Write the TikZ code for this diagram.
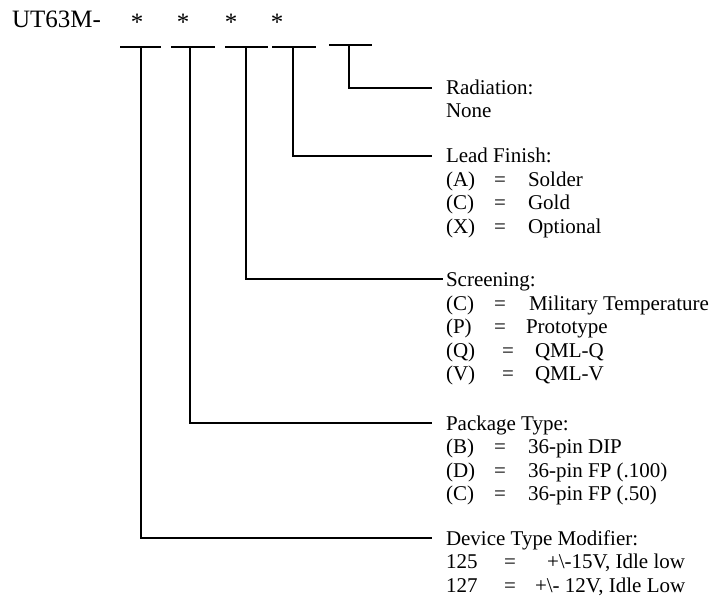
\documentclass[tikz,border=0pt]{standalone}
\usepackage{fontspec}
\setmainfont{Liberation Serif}
\tikzset{
  txt/.style={anchor=west,inner sep=0pt,outer sep=0pt,text height=14bp,text depth=0bp,font=\fontsize{21bp}{25bp}\selectfont},
  head/.style={txt,inner xsep=14bp},
  star/.style={anchor=base,inner sep=0pt,outer sep=0pt,font=\fontsize{25bp}{30bp}\selectfont},
  rule/.style={line width=1.5bp},
}

\begin{document}
\begin{tikzpicture}[x=1bp,y=-1bp]
  \useasboundingbox (0,0) rectangle (714,597);
  % part number
  \node[anchor=base west,inner sep=0pt,outer sep=0pt,font=\fontsize{25bp}{30bp}\selectfont] (pn) at (12,28) {UT63M-};
  \node[star] (s1) at (137,31) {*};
  \node[star] (s2) at (183,31) {*};
  \node[star] (s3) at (231,31) {*};
  \node[star] (s4) at (277,31) {*};
  % underlines
  \draw[rule] (120,47) -- (161,47);
  \draw[rule] (171,47) -- (215,47);
  \draw[rule] (225,47) -- (268,47);
  \draw[rule] (272,47) -- (316,47);
  \draw[rule] (329,45) -- (372,45);
  \coordinate (u1) at (141,47);
  \coordinate (u2) at (190,47);
  \coordinate (u3) at (246,47);
  \coordinate (u4) at (293,47);
  \coordinate (u5) at (349,45);
  % radiation
  \node[head] (rad) at (432,88) {Radiation:};
  \node[txt] (radnone) at (446,111) {None};
  % lead finish
  \node[head] (lead) at (432,156) {Lead Finish:};
  \node[txt] (leadA) at (446,179.5) {(A)};
  \node[txt] (leadAeq) at (494,179.5) {=};
  \node[txt] (leadAval) at (528,179.5) {Solder};
  \node[txt] (leadC) at (446,203) {(C)};
  \node[txt] (leadCeq) at (494,203) {=};
  \node[txt] (leadCval) at (528,203) {Gold};
  \node[txt] (leadX) at (446,226.5) {(X)};
  \node[txt] (leadXeq) at (494,226.5) {=};
  \node[txt] (leadXval) at (528,226.5) {Optional};
  % screening
  \node[head,inner xsep=3bp] (scr) at (443,279) {Screening:};
  \node[txt] (scrC) at (446,303) {(C)};
  \node[txt] (scrCeq) at (494,303) {=};
  \node[txt] (scrCval) at (529,303) {Military Temperature};
  \node[txt] (scrP) at (446,326.5) {(P)};
  \node[txt] (scrPeq) at (494,326.5) {=};
  \node[txt] (scrPval) at (526,326.5) {Prototype};
  \node[txt] (scrQ) at (446,350) {(Q)};
  \node[txt] (scrQeq) at (502,350) {=};
  \node[txt] (scrQval) at (535,350) {QML-Q};
  \node[txt] (scrV) at (446,373.5) {(V)};
  \node[txt] (scrVeq) at (502,373.5) {=};
  \node[txt] (scrVval) at (535,373.5) {QML-V};
  % package type
  \node[head] (pkg) at (432,423) {Package Type:};
  \node[txt] (pkgB) at (446,446.5) {(B)};
  \node[txt] (pkgBeq) at (494,446.5) {=};
  \node[txt] (pkgBval) at (528,446.5) {36-pin DIP};
  \node[txt] (pkgD) at (446,470) {(D)};
  \node[txt] (pkgDeq) at (494,470) {=};
  \node[txt] (pkgDval) at (528,470) {36-pin FP (.100)};
  \node[txt] (pkgC) at (446,493.5) {(C)};
  \node[txt] (pkgCeq) at (494,493.5) {=};
  \node[txt] (pkgCval) at (528,493.5) {36-pin FP (.50)};
  % device type modifier
  \node[head] (dev) at (432,538) {Device Type Modifier:};
  \node[txt] (dev125) at (446,561.5) {125};
  \node[txt] (dev125eq) at (504,561.5) {=};
  \node[txt] (dev125val) at (547,561.5) {+\textbackslash-15V, Idle low};
  \node[txt] (dev127) at (446,585) {127};
  \node[txt] (dev127eq) at (504,585) {=};
  \node[txt] (dev127val) at (535,585) {+\textbackslash- 12V, Idle Low};
  % connectors
  \draw[rule] (u5) |- (rad.west);
  \draw[rule] (u4) |- (lead.west);
  \draw[rule] (u3) |- (scr.west);
  \draw[rule] (u2) |- (pkg.west);
  \draw[rule] (u1) |- (dev.west);
\end{tikzpicture}
\end{document}
